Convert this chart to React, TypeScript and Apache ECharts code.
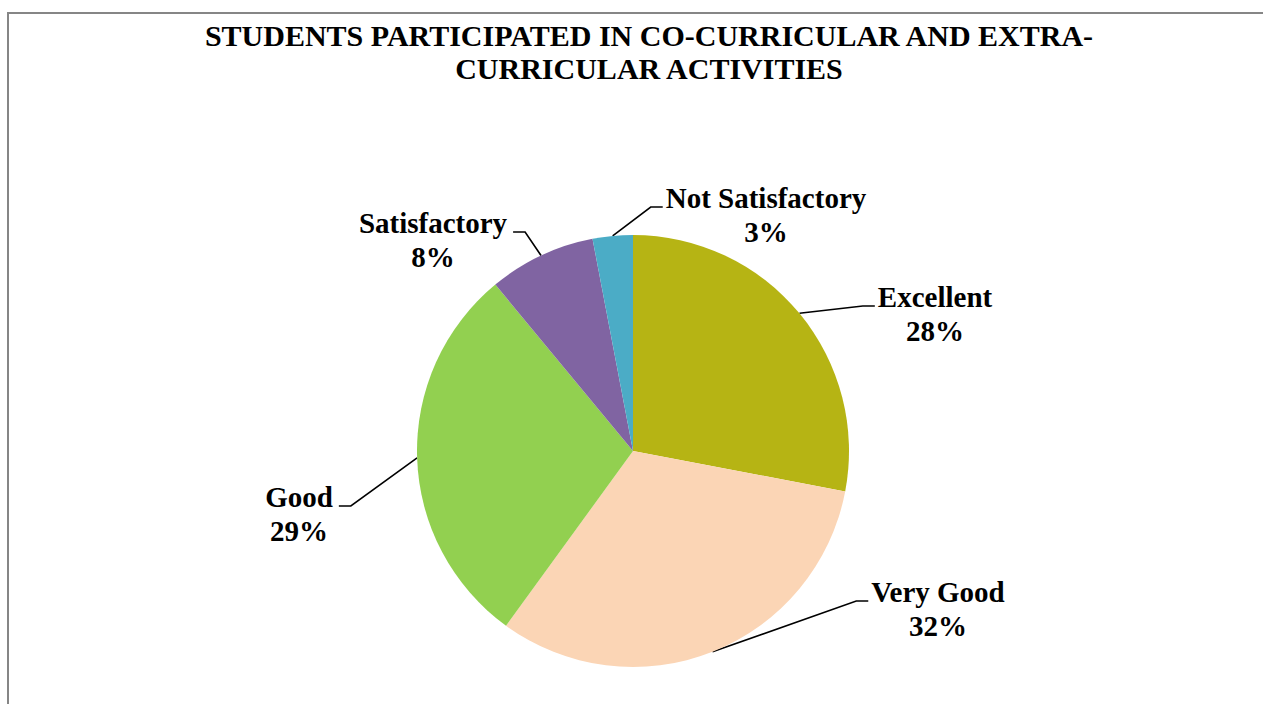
import React, { useEffect, useRef } from "react";
import * as echarts from "echarts";

const TITLE_LINES = ["STUDENTS PARTICIPATED IN CO-CURRICULAR AND EXTRA-", "CURRICULAR ACTIVITIES"];
const categories = ["Excellent", "Very Good", "Good", "Satisfactory", "Not Satisfactory"];
const values = [28, 32, 29, 8, 3];
const colors = ["#B6B414", "#FBD5B5", "#92D050", "#8064A2", "#4BACC6"];

// label block centres (layout) and which side the leader line attaches to
const labelCenters: [number, number, "left" | "right"][] = [
  [935, 314, "right"],
  [938, 609, "right"],
  [299, 514, "left"],
  [433, 240, "left"],
  [766, 215, "right"],
];

const FONT = "'Times New Roman', 'Liberation Serif', serif";

export default function App() {
  const ref = useRef<HTMLDivElement>(null);
  useEffect(() => {
    if (!ref.current) return;
    const chart = echarts.init(ref.current, undefined, { renderer: "svg" });
    chart.setOption({
      animation: false,
      backgroundColor: "#ffffff",
      title: {
        text: TITLE_LINES.join("\n"),
        left: 644,
        top: 14,
        textAlign: "center",
        textStyle: {
          fontFamily: FONT,
          fontWeight: "bold",
          fontSize: 30,
          lineHeight: 33,
          color: "#000",
        },
      },
      graphic: [
        {
          type: "rect",
          shape: { x: 8, y: 13, width: 1400, height: 900 },
          style: { fill: "none", stroke: "#868686", lineWidth: 2 },
          silent: true,
        },
      ],
      series: [
        {
          type: "pie",
          center: [633, 451],
          radius: 216,
          startAngle: 90,
          clockwise: true,
          avoidLabelOverlap: false,
          data: categories.map((c, i) => ({ name: c, value: values[i], itemStyle: { color: colors[i] } })),
          itemStyle: { borderWidth: 0 },
          label: {
            show: true,
            position: "outside",
            formatter: (p: any) => `${p.name}\n${Math.round(p.percent)}%`,
            fontFamily: FONT,
            fontWeight: "bold",
            fontSize: 29,
            lineHeight: 34,
            color: "#000",
            align: "center",
          },
          labelLine: {
            show: true,
            length: 20,
            length2: 20,
            lineStyle: { color: "#000", width: 1.6 },
          },
          emphasis: { disabled: true },
          labelLayout: (params: any) => {
            const i = params.dataIndex;
            const [cx, cy, side] = labelCenters[i];
            const w = params.labelRect ? params.labelRect.width : 100;
            const p0 = params.labelLinePoints ? params.labelLinePoints[0] : [cx, cy];
            const ly = cy - 8;
            let endX: number, elbowX: number;
            if (side === "right") {
              endX = cx - w / 2 - 3;
              elbowX = endX - 12;
            } else {
              endX = cx + w / 2 + 6;
              elbowX = endX + 12;
            }
            return {
              x: cx,
              y: cy,
              align: "center",
              verticalAlign: "middle",
              labelLinePoints: [
                [p0[0], p0[1]],
                [elbowX, ly],
                [endX, ly],
              ],
            };
          },
        },
      ],
    });
    return () => chart.dispose();
  }, []);
  return (
    <div
      ref={ref}
      style={{ position: "fixed", left: 0, top: 0, width: 1263, height: 704 }}
    />
  );
}
